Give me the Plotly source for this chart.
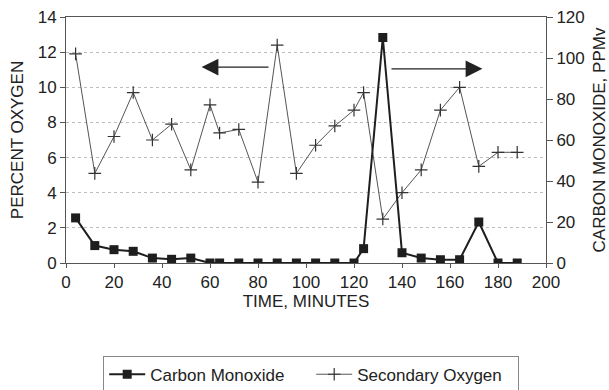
import plotly.graph_objects as go

# Sampling times (minutes)
time_min = [4, 12, 20, 28, 36, 44, 52, 60, 64, 72, 80, 88, 96, 104, 112,
            120, 124, 132, 140, 148, 156, 164, 172, 180, 188]

# Carbon monoxide, ppmv (right axis)
carbon_monoxide = [22, 8.5, 6.5, 5.7, 2.4, 1.8, 2.4, 0, 0, 0, 0, 0, 0, 0, 0,
                   0, 7, 110, 5, 2.4, 1.6, 1.6, 20, 0, 0]

# Secondary oxygen, percent (left axis)
secondary_oxygen = [11.9, 5.1, 7.2, 9.7, 7.0, 7.9, 5.3, 9.0, 7.4, 7.6, 4.6,
                    12.4, 5.1, 6.7, 7.8, 8.7, 9.7, 2.5, 4.0, 5.3, 8.7, 10.0,
                    5.5, 6.3, 6.3]

x_ticks = [0, 20, 40, 60, 80, 100, 120, 140, 160, 180, 200]
left_ticks = [0, 2, 4, 6, 8, 10, 12, 14]
right_ticks = [0, 20, 40, 60, 80, 100, 120]

FONT = "Liberation Sans, Arial, Helvetica, sans-serif"
TXT = "#222222"
AX = "#555555"

fig = go.Figure()

fig.add_trace(go.Scatter(
    x=time_min, y=carbon_monoxide, name="Carbon Monoxide", yaxis="y2",
    mode="lines+markers",
    line=dict(color="#1e1e1e", width=2),
    marker=dict(symbol="square", size=9, color="#1e1e1e"),
))

fig.add_trace(go.Scatter(
    x=time_min, y=secondary_oxygen, name="Secondary Oxygen", yaxis="y",
    mode="lines+markers",
    line=dict(color="#555555", width=1),
    marker=dict(symbol="cross-thin", size=9,
                line=dict(color="#333333", width=1.2)),
))

# Arrows pointing each series to its axis
fig.add_annotation(x=56.5, y=11.15, ax=85, ay=11.15, xref="x", yref="y",
                   axref="x", ayref="y", text="", showarrow=True,
                   arrowhead=2, arrowsize=2.8, arrowwidth=1.2,
                   arrowcolor="#222222")
fig.add_annotation(x=173.5, y=11.05, ax=135, ay=11.05, xref="x", yref="y",
                   axref="x", ayref="y", text="", showarrow=True,
                   arrowhead=2, arrowsize=2.8, arrowwidth=1.2,
                   arrowcolor="#222222")

fig.update_layout(
    width=609, height=390,
    margin=dict(l=66, r=63, t=17, b=127, autoexpand=False),
    paper_bgcolor="white", plot_bgcolor="white",
    font=dict(family=FONT, size=17, color=TXT),
    showlegend=True,
    legend=dict(orientation="h", xref="container", x=0.511, xanchor="center",
                yref="container", y=0.088, yanchor="top",
                bordercolor="#888888", borderwidth=1,
                font=dict(size=17, color=TXT), traceorder="normal",
                itemwidth=36, entrywidth=156),
    xaxis=dict(range=[0, 200], tickvals=x_ticks, showgrid=False,
               automargin=False,
               zeroline=False, showline=True, linecolor=AX, linewidth=1,
               mirror=True, ticks="outside", ticklen=4, tickcolor=AX,
               title=dict(text="TIME, MINUTES", standoff=0,
                          font=dict(size=17))),
    yaxis=dict(range=[0, 14], tickvals=left_ticks, showgrid=True,
               automargin=False,
               gridcolor="#bdbdbd", griddash="dot", gridwidth=1,
               zeroline=False, showline=True, linecolor=AX, linewidth=1,
               ticks="outside", ticklen=5, tickcolor=AX,
               title=dict(text="PERCENT OXYGEN", standoff=9,
                          font=dict(size=17))),
    yaxis2=dict(range=[0, 120], tickvals=right_ticks, overlaying="y",
                automargin=False,
                side="right", showgrid=False, zeroline=False,
                showline=True, linecolor=AX, linewidth=1,
                ticks="outside", ticklen=6, tickcolor=AX,
                title=dict(text="CARBON MONOXIDE, PPMv", standoff=18,
                           font=dict(size=17))),
)

fig.write_html("out.html")
